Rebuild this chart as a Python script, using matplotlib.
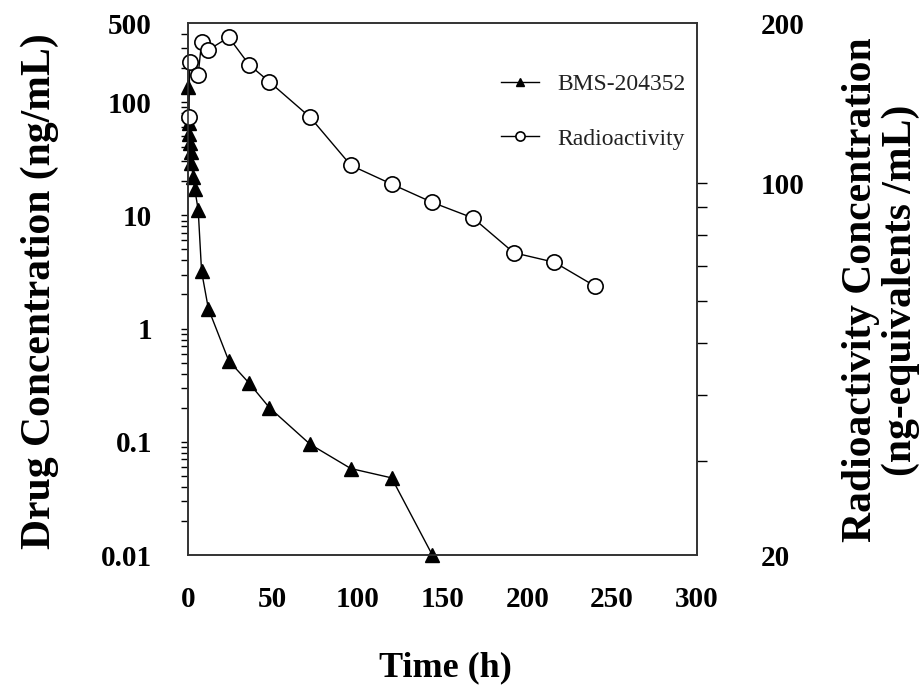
import matplotlib
matplotlib.use("Agg")
import matplotlib.pyplot as plt
from matplotlib.ticker import FixedLocator, NullFormatter

plt.rcParams['font.family'] = ['Liberation Serif', 'DejaVu Serif']

# BMS-204352 plasma concentration (ng/mL), left axis
bms_time = [0.25, 0.5, 0.75, 1, 1.5, 2, 3, 4, 6, 8, 12, 24, 36, 48, 72, 96, 120, 144]
bms_conc = [135, 65, 52, 44, 36, 29, 22, 17, 11.2, 3.2, 1.5, 0.52, 0.33, 0.2,
            0.095, 0.058, 0.048, 0.01]

# total radioactivity (ng-equivalents/mL), right axis
radio_time = [0.5, 1, 6, 8, 12, 24, 36, 48, 72, 96, 120, 144, 168, 192, 216, 240]
radio_conc = [133, 169, 160, 184, 178, 188, 167, 155, 133, 108, 99.6, 92, 86,
              74, 71, 64]

x_ticks = [0, 50, 100, 150, 200, 250, 300]
left_ticks = [0.01, 0.1, 1, 10, 100, 500]
left_labels = ['0.01', '0.1', '1', '10', '100', '500']
right_ticks = [20, 100, 200]
right_labels = ['20', '100', '200']

W, H = 924, 698
fig = plt.figure(figsize=(W / 100, H / 100), dpi=100)
ax = fig.add_axes([188 / W, 1 - 555 / H, (697 - 188) / W, (555 - 23) / H])
ax2 = ax.twinx()

l1, = ax.plot(bms_time, bms_conc, '-^', color='k', ms=10.5, lw=1.0,
              label='BMS-204352', clip_on=False, zorder=3)
l2, = ax2.plot(radio_time, radio_conc, '-o', color='k', mfc='white', mec='k',
               ms=11, mew=1.2, lw=1.0, label='Radioactivity', clip_on=False)

# x axis: labels at 0..300, visible ticks only inside
ax.set_xlim(0, 300)
ax.set_xticks(x_ticks)
ax.set_xticklabels([str(v) for v in x_ticks], fontsize=21, fontweight='bold')
ax.set_xticks(x_ticks[1:-1], minor=True)
ax.tick_params(axis='x', which='major', length=0, pad=22)
ax.tick_params(axis='x', which='minor', length=9, width=1, direction='out')

# left log axis
ax.set_yscale('log')
ax.set_ylim(0.01, 500)
ax.set_yticks(left_ticks)
ax.set_yticklabels(left_labels, fontsize=21, fontweight='bold')
minor_left = [k * 10.0 ** d for d in range(-2, 3) for k in range(1, 10)
              if 0.01 < k * 10.0 ** d < 500]
ax.yaxis.set_minor_locator(FixedLocator(minor_left))
ax.yaxis.set_minor_formatter(NullFormatter())
ax.yaxis.remove_overlapping_locs = False
ax.tick_params(axis='y', which='major', length=0, pad=26)
ax.tick_params(axis='y', which='minor', length=5, width=1, direction='out')

# right log axis
ax2.set_yscale('log')
ax2.set_ylim(20, 200)
ax2.set_yticks(right_ticks)
ax2.set_yticklabels(right_labels, fontsize=21, fontweight='bold')
ax2.yaxis.set_minor_locator(FixedLocator([30, 40, 50, 60, 70, 80, 90, 100]))
ax2.yaxis.set_minor_formatter(NullFormatter())
ax2.yaxis.remove_overlapping_locs = False
ax2.tick_params(axis='y', which='major', length=0, pad=46)
ax2.tick_params(axis='y', which='minor', length=7, width=1, direction='out')

for a in (ax, ax2):
    for s in a.spines.values():
        s.set_linewidth(1.2)
        s.set_color('#333333')

fig.text(40 / W, 1 - 291 / H, 'Drug Concentration (ng/mL)', rotation=90,
         ha='center', va='center', fontsize=30, fontweight='bold')
fig.text(881 / W, 1 - 290 / H, 'Radioactivity Concentration\n(ng-equivalents /mL)',
         rotation=90, ha='center', va='center', multialignment='center',
         linespacing=1.05, fontsize=30, fontweight='bold')
fig.text(445 / W, 1 - 668 / H, 'Time (h)', ha='center', va='center',
         fontsize=26, fontweight='bold')

leg = ax2.legend([l1, l2], ['BMS-204352', 'Radioactivity'], loc='upper left',
                 bbox_to_anchor=(0.615, 0.905), frameon=False, fontsize=17,
                 markerscale=0.6, handlelength=1.6, handletextpad=0.8,
                 labelspacing=1.4, borderaxespad=0, borderpad=0)
for t in leg.get_texts():
    t.set_color('#222222')

fig.savefig('out.png', dpi=100)
